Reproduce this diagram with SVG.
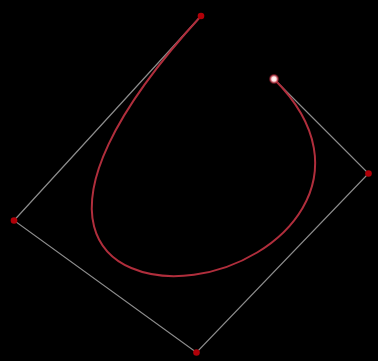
<svg xmlns="http://www.w3.org/2000/svg" width="378" height="361" viewBox="0 0 378 361">
<style>
.poly{fill:none;stroke:#8c8c8c;stroke-width:1.2}
.curve{fill:none;stroke:#b02e3c;stroke-width:2}
.pt{fill:#b00008}
</style>
<defs>
<radialGradient id="glow">
<stop offset="0" stop-color="#ffffff"/>
<stop offset="0.4" stop-color="#ffe0e0"/>
<stop offset="0.7" stop-color="#d04858" stop-opacity="0.8"/>
<stop offset="1" stop-color="#800010" stop-opacity="0"/>
</radialGradient>
</defs>
<rect width="378" height="361" fill="#000"/>
<g id="connectors">
<polyline class="poly" points="201,16 14,220.5 196.5,352.5 368.5,173.5 274,79"/>
<path class="curve" d="M201,16 C14,220.5 105.25,286.5 193.9,274.75 C282.5,263 368.5,173.5 274,79"/>
</g>
<g id="p0"><circle class="pt" cx="201" cy="16" r="3.3"/></g>
<g id="p1"><circle class="pt" cx="14" cy="220.5" r="3.3"/></g>
<g id="p2"><circle class="pt" cx="196.5" cy="352.5" r="3.3"/></g>
<g id="p3"><circle class="pt" cx="368.5" cy="173.5" r="3.3"/></g>
<g id="p4"><circle cx="274" cy="79" r="5.5" fill="url(#glow)"/></g>
</svg>
